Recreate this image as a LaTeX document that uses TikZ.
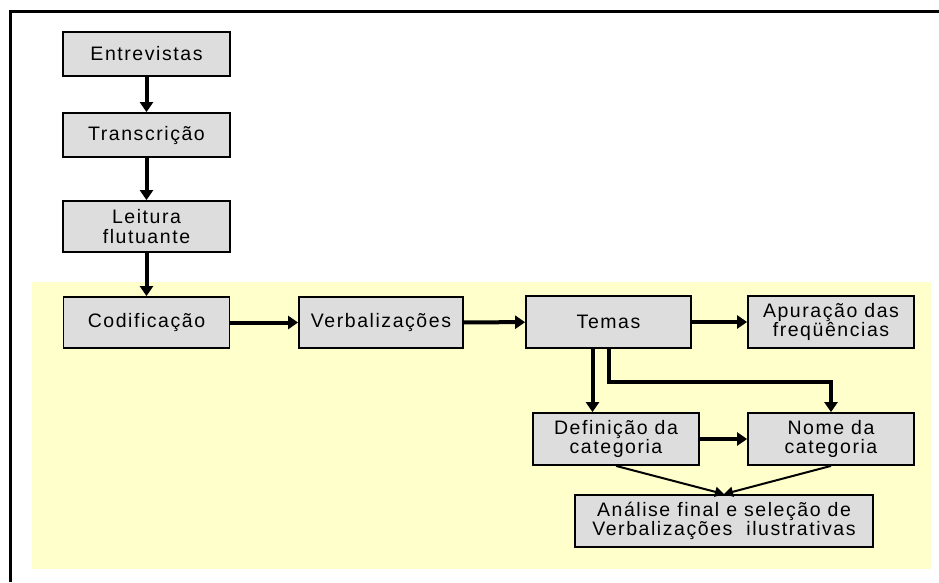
\documentclass[tikz,border=0pt]{standalone}
\usepackage{fontspec}
\setmainfont{Liberation Sans}[LetterSpace=8]
\usetikzlibrary{arrows.meta}
\definecolor{bgyellow}{HTML}{FFFFCC}
\definecolor{boxgray}{HTML}{DDDDDD}
\tikzset{
  etapa/.style={draw, line width=1.8pt, fill=boxgray, align=center,
    inner sep=0pt, font=\fontsize{19.5}{19.5}\selectfont},
  fluxo/.style={line width=4pt, -{Triangle[length=10pt,width=13pt]}},
  fino/.style={line width=2pt, -{Triangle[length=9pt,width=10pt]}}
}
\begin{document}
\begin{tikzpicture}[x=1pt, y=-1pt]
        \useasboundingbox (0,0) rectangle (939,582);
        \fill[bgyellow] (32,282) rectangle (931,569);
        \draw[line width=3pt] (10,582) -- (10,11) -- (939,11);

        \node[etapa, minimum width=167, minimum height=44] (entrev) at (146.5,54) {Entrevistas};
        \node[etapa, minimum width=167, minimum height=44] (transc) at (146.5,135) {Transcrição};
        \node[etapa, minimum width=167, minimum height=51] (leitura) at (146.5,226.5) {Leitura\\flutuante};
        \node[etapa, minimum width=166, minimum height=51] (codif) at (146.5,322.5) {Codificação};
        \node[etapa, minimum width=164, minimum height=51] (verbal) at (381,322.5) {Verbalizações};
        \node[etapa, minimum width=165, minimum height=52] (temas) at (608.5,322) {Temas};
        \node[etapa, minimum width=166, minimum height=52] (apur) at (831,322) {Apuração das\\freqüências};
        \node[etapa, minimum width=166, minimum height=52] (defin) at (616,439) {Definição da\\categoria};
        \node[etapa, minimum width=166, minimum height=52] (nome) at (831,439) {Nome da\\categoria};
        \node[etapa, minimum width=298, minimum height=52] (analise) at (724,521) {Análise final e seleção de\\Verbalizações\ \ ilustrativas};

        \draw[fluxo] (entrev) -- (transc);
        \draw[fluxo] (transc) -- (leitura);
        \draw[fluxo] (leitura) -- (codif);
        \draw[fluxo] (codif) -- (verbal);
        \draw[fluxo] (verbal) -- (temas);
        \draw[fluxo] (temas) -- (apur);
        \draw[fluxo] ([xshift=-16]temas.south) -- ([xshift=-16]temas.south |- defin.north);
        \draw[fluxo] (temas.south) -- ++(0,33) -| (nome.north);
        \draw[fluxo] (defin) -- (nome);
        \draw[fino] (defin.south) -- (analise.north);
        \draw[fino] (nome.south) -- (analise.north);
\end{tikzpicture}
\end{document}
